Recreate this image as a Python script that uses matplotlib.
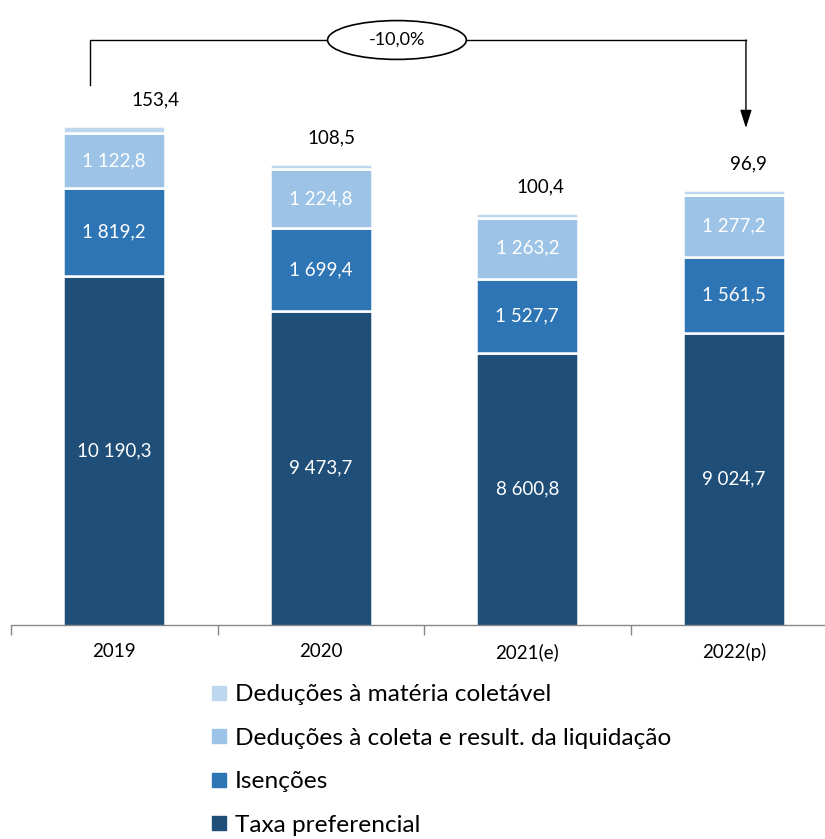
import matplotlib
matplotlib.use("Agg")
import matplotlib.pyplot as plt
from matplotlib.patches import Ellipse
from matplotlib.lines import Line2D

plt.rcParams['font.family'] = ['Lato', 'DejaVu Sans']

categories = ["2019", "2020", "2021(e)", "2022(p)"]
taxa_preferencial = [10190.3, 9473.7, 8600.8, 9024.7]
isencoes = [1819.2, 1699.4, 1527.7, 1561.5]
deducoes_coleta = [1122.8, 1224.8, 1263.2, 1277.2]
deducoes_materia = [153.4, 108.5, 100.4, 96.9]

series_names = ["Taxa preferencial", "Isenções",
                "Deduções à coleta e result. da liquidação",
                "Deduções à matéria coletável"]
colors = ["#1F4E79", "#2E75B6", "#9DC3E6", "#BDD7EE"]

def fmt(v):
    return f"{v:,.1f}".replace(",", " ").replace(".", ",")

W, H = 825, 839
fig = plt.figure(figsize=(W / 100, H / 100), dpi=100)
ax = fig.add_axes([11 / W, 1 - 625 / H, 826 / W, 605 / H])

x = list(range(len(categories)))
series = [taxa_preferencial, isencoes, deducoes_coleta, deducoes_materia]
bottoms = [0.0] * len(x)
for vals, col, name in zip(series, colors, series_names):
    ax.bar(x, vals, width=0.495, bottom=bottoms, color=col,
           edgecolor="white", linewidth=1.8, label=name, zorder=2)
    bottoms = [b + v for b, v in zip(bottoms, vals)]

ax.set_xlim(-0.5, 3.5)
ax.set_ylim(3000, 15464)

# inner labels (white)
for i in x:
    b = 0
    for k, vals in enumerate(series[:3]):
        v = vals[i]
        if k == 0:
            yc = (3000 + v) / 2
        else:
            yc = b + v / 2
        ax.text(i, yc, fmt(v), ha="center", va="center", color="white",
                fontsize=13.5, zorder=3)
        b += v

# top small labels
top_dx = [41, 11, 13, 15]
totals = bottoms
for i in x:
    ax.annotate(fmt(deducoes_materia[i]), xy=(i, totals[i]),
                xytext=(top_dx[i], 26), textcoords="offset pixels",
                ha="center", va="center", fontsize=13.5, color="black")

# axes styling
for s in ["left", "right", "top"]:
    ax.spines[s].set_visible(False)
ax.spines["bottom"].set_color("#888888")
ax.spines["bottom"].set_linewidth(1.0)
ax.set_yticks([])
ax.set_xticks([-0.5, 0.5, 1.5, 2.5, 3.5])
ax.set_xticklabels([])
ax.tick_params(axis="x", which="major", length=7, color="#888888", width=1.0)
ax.set_xticks(x, minor=True)
ax.set_xticklabels(categories, minor=True, fontsize=13.5)
ax.tick_params(axis="x", which="minor", length=0, pad=13)

# change bracket
pct = (totals[3] / totals[0] - 1) * 100
pct_txt = f"{pct:.1f}%".replace(".", ",")
bx_left, bx_right = -0.117, 3.059
by_top, by_start, by_tip = 15052, 14125, 13239
ecx, ew, eh = 1.369, 0.672, 800
lkw = dict(color="black", lw=1.0, clip_on=False, zorder=4)
ax.plot([bx_left, bx_left, ecx - ew / 2], [by_start, by_top, by_top], **lkw)
ax.plot([ecx + ew / 2, bx_right], [by_top, by_top], **lkw)
ax.annotate("", xy=(bx_right, by_tip), xytext=(bx_right, by_top),
            arrowprops=dict(arrowstyle="-|>,head_width=0.35,head_length=1.1",
                            color="black", lw=1.0, shrinkA=0, shrinkB=0),
            annotation_clip=False)
ax.add_patch(Ellipse((ecx, by_top), ew, eh, facecolor="white",
                     edgecolor="black", lw=1.2, clip_on=False, zorder=5))
ax.text(ecx, by_top, pct_txt, ha="center", va="center", fontsize=13,
        zorder=6, clip_on=False)

# legend
handles = [Line2D([], [], marker="s", linestyle="none", markersize=9.5,
                  markerfacecolor=c, markeredgecolor=c) for c in colors]
order = [3, 2, 1, 0]
fig.legend([handles[k] for k in order], [series_names[k] for k in order],
           loc="upper left", bbox_to_anchor=(212 / W, 1 - 684 / H),
           frameon=False, fontsize=17.6, handlelength=0.6, handletextpad=0.35,
           labelspacing=0.92, borderaxespad=0, borderpad=0)

fig.savefig("out.png", dpi=100)
